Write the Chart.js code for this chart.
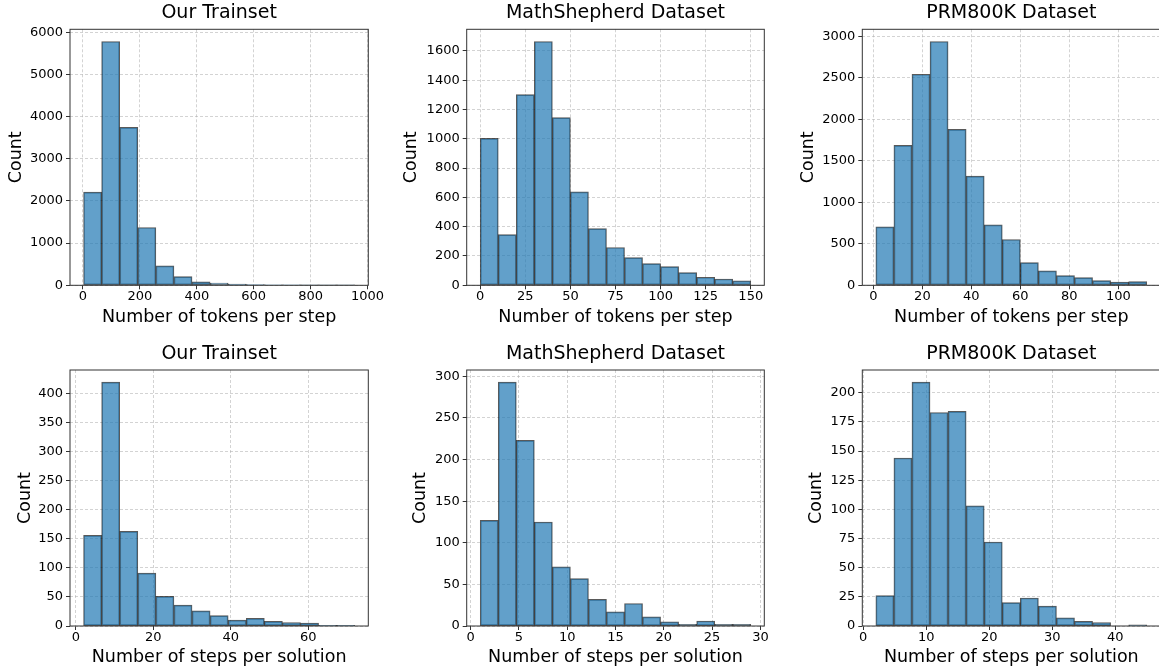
<!DOCTYPE html>
<html>
<head>
<meta charset="utf-8">
<script src="https://cdn.jsdelivr.net/npm/chart.js@4/dist/chart.umd.min.js"></script>
<style>
  body { margin:0; width:1159px; height:670px; overflow:hidden; background:#fff; position:relative; }
  canvas { position:absolute; }
</style>
</head>
<body>
<canvas id="c0"></canvas>
<canvas id="c1"></canvas>
<canvas id="c2"></canvas>
<canvas id="c3"></canvas>
<canvas id="c4"></canvas>
<canvas id="c5"></canvas>
<script>
// ===== DADOS =====
const datasetNames = ["Our Trainset", "MathShepherd Dataset", "PRM800K Dataset"];
const xLabels = ["Number of tokens per step", "Number of steps per solution"];
const binCount = 15;

// counts per bin (15 bins each)
const tokensTrain    = [2210, 5780, 3745, 1370, 459, 206, 80, 55, 30, 15, 12, 8, 5, 3, 2];
const tokensShepherd = [1003, 346, 1301, 1664, 1144, 638, 387, 258, 189, 148, 128, 87, 55, 43, 30];
const tokensPrm      = [705, 1687, 2544, 2939, 1880, 1316, 729, 552, 274, 173, 117, 93, 56, 40, 44];
const stepsTrain     = [156, 420, 163, 91, 51, 36, 26, 18, 10, 13, 8, 6, 5, 1, 1];
const stepsShepherd  = [127, 293, 223, 125, 71, 57, 32, 17, 27, 11, 5, 2, 6, 2, 2];
const stepsPrm       = [26, 144, 209, 183, 184, 103, 72, 20, 24, 17, 7, 4, 3, 0, 1];

// histogram ranges (first bin edge, last bin edge)
const tokensTrainRange    = [2, 955];
const tokensShepherdRange = [0, 150];
const tokensPrmRange      = [1, 111.6];
const stepsTrainRange     = [2, 72];
const stepsShepherdRange  = [1, 29];
const stepsPrmRange       = [2, 45];

// tick labels
const tokensTrainXTicks    = [0, 200, 400, 600, 800, 1000];
const tokensTrainYTicks    = [0, 1000, 2000, 3000, 4000, 5000, 6000];
const tokensShepherdXTicks = [0, 25, 50, 75, 100, 125, 150];
const tokensShepherdYTicks = [0, 200, 400, 600, 800, 1000, 1200, 1400, 1600];
const tokensPrmXTicks      = [0, 20, 40, 60, 80, 100];
const tokensPrmYTicks      = [0, 500, 1000, 1500, 2000, 2500, 3000];
const stepsTrainXTicks     = [0, 20, 40, 60];
const stepsTrainYTicks     = [0, 50, 100, 150, 200, 250, 300, 350, 400];
const stepsShepherdXTicks  = [0, 5, 10, 15, 20, 25, 30];
const stepsShepherdYTicks  = [0, 50, 100, 150, 200, 250, 300];
const stepsPrmXTicks       = [0, 10, 20, 30, 40];
const stepsPrmYTicks       = [0, 25, 50, 75, 100, 125, 150, 175, 200];

// ===== LAYOUT =====
const rows = [
  {top:0,   height:328, titlePad:{top:2, bottom:4.5}, xH:42.7},
  {top:335, height:333, titlePad:{top:8, bottom:4.2}, xH:42}
];
const cols = [
  {left:0,   width:390, yW:70,   padRight:21.7},
  {left:390, width:390, yW:76.7, padRight:15.7},
  {left:780, width:400, yW:82.3, padRight:19.7}
];
const countPad = [[6.2, 11.2, 18.2], [14.7, 20.2, 26.2]];

const panels = [
  {counts:tokensTrain,    range:tokensTrainRange,    xt:tokensTrainXTicks,    yt:tokensTrainYTicks},
  {counts:tokensShepherd, range:tokensShepherdRange, xt:tokensShepherdXTicks, yt:tokensShepherdYTicks},
  {counts:tokensPrm,      range:tokensPrmRange,      xt:tokensPrmXTicks,      yt:tokensPrmYTicks},
  {counts:stepsTrain,     range:stepsTrainRange,     xt:stepsTrainXTicks,     yt:stepsTrainYTicks},
  {counts:stepsShepherd,  range:stepsShepherdRange,  xt:stepsShepherdXTicks,  yt:stepsShepherdYTicks},
  {counts:stepsPrm,       range:stepsPrmRange,       xt:stepsPrmXTicks,       yt:stepsPrmYTicks}
];

const FONT = "'DejaVu Sans', sans-serif";
const gridColor = "rgba(176,176,176,0.7)";

// spines drawn on top of everything
const spines = {
  id: "spines",
  afterDraw(chart){
    const a = chart.chartArea, ctx = chart.ctx;
    ctx.save();
    ctx.strokeStyle = "#333";
    ctx.lineWidth = 1;
    ctx.strokeRect(a.left, a.top, a.right - a.left, a.bottom - a.top);
    ctx.restore();
  }
};

function desenharPainel(idx){
  const p = panels[idx];
  const r = Math.floor(idx / 3), c = idx % 3;
  const row = rows[r], col = cols[c];
  const cv = document.getElementById("c" + idx);
  cv.width = col.width; cv.height = row.height;
  cv.style.left = col.left + "px"; cv.style.top = row.top + "px";

  const lo = p.range[0], hi = p.range[1];
  const w = (hi - lo) / binCount;
  const pts = p.counts.map((v, i) => ({x: lo + (i + 0.5) * w, y: v}));
  const span = hi - lo;
  const ymax = Math.max(...p.counts) * 1.05;

  new Chart(cv, {
    type: "bar",
    data: { datasets: [{
      data: pts,
      backgroundColor: "rgba(31,119,180,0.7)",
      borderColor: "rgba(0,0,0,0.65)",
      borderWidth: 1,
      borderSkipped: false,
      barPercentage: 1,
      categoryPercentage: 1
    }]},
    options: {
      responsive: false,
      animation: false,
      layout: { padding: { left:0, top:0, bottom:0, right: col.padRight } },
      plugins: {
        legend: { display:false },
        tooltip: { enabled:false },
        title: {
          display: true, text: datasetNames[c], fullSize: false,
          color: "#000", font: { family: FONT, size: 19, weight: "normal" },
          padding: row.titlePad
        }
      },
      scales: {
        x: {
          type: "linear", offset: false, z: 1,
          min: lo - 0.05 * span, max: hi + 0.05 * span,
          afterBuildTicks: s => { s.ticks = p.xt.map(v => ({value: v})); },
          afterFit: s => { s.height = row.xH; },
          grid: { offset:false, color: gridColor, lineWidth: 0.8,
                  tickColor:"#333", tickLength:4, tickWidth:1, tickBorderDash:[] },
          border: { display:false, dash:[3, 2] },
          ticks: { color:"#000", font:{family:FONT, size:13}, padding:0, maxRotation:0,
                   autoSkip:false, callback: v => String(v) },
          title: { display:true, text: xLabels[r], color:"#000",
                   font:{family:FONT, size:17.5}, padding:{top:0, bottom:0} }
        },
        y: {
          min: 0, max: ymax, z: 1,
          afterBuildTicks: s => { s.ticks = p.yt.map(v => ({value: v})); },
          afterFit: s => { s.width = col.yW; },
          grid: { color: gridColor, lineWidth: 0.8,
                  tickColor:"#333", tickLength:4, tickWidth:1, tickBorderDash:[] },
          border: { display:false, dash:[3, 2] },
          ticks: { color:"#000", font:{family:FONT, size:13}, padding:3,
                   autoSkip:false, callback: v => String(v) },
          title: { display:true, text:"Count", color:"#000",
                   font:{family:FONT, size:17.5}, padding:{top: countPad[r][c], bottom:0} }
        }
      }
    },
    plugins: [spines]
  });
}

// ===== INICIALIZAÇÃO =====
for (let i = 0; i < panels.length; i++) desenharPainel(i);
</script>
</body>
</html>
